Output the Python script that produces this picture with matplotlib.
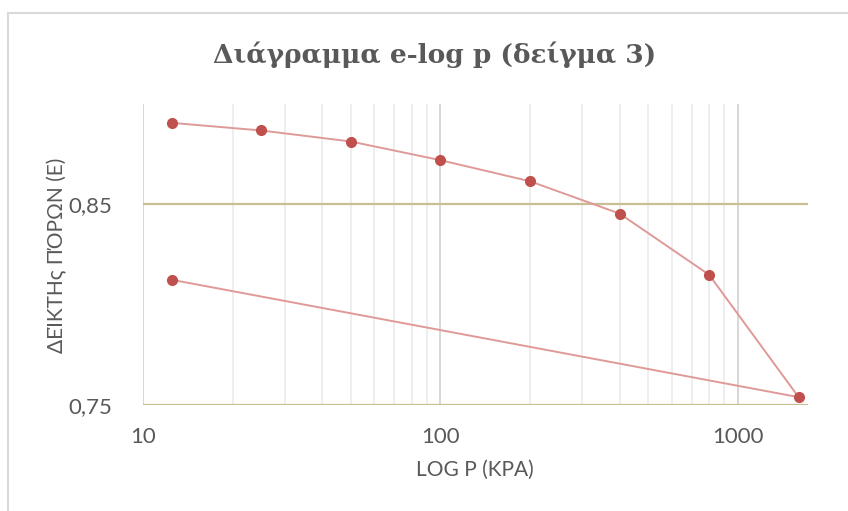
import matplotlib
matplotlib.use("Agg")
import matplotlib.pyplot as plt
from matplotlib.patches import Rectangle
from matplotlib.ticker import FixedLocator, FuncFormatter

# Data (loading then unloading)
pressure = [12.5, 25, 50, 100, 200, 400, 800, 1600, 12.5]
void_ratio = [0.8906, 0.8868, 0.8813, 0.8720, 0.8615, 0.8454, 0.8149, 0.7539, 0.8124]
x_ticks = [10, 100, 1000]
y_ticks = [0.75, 0.85]
title = "Διάγραμμα e-log p (δείγμα 3)"
xlabel = "LOG P (KPA)"
ylabel = "ΔΕΊΚΤΗς ΠΌΡΩΝ (Ε)"

txt = "#595959"
fig = plt.figure(figsize=(8.48, 5.11), dpi=100)
fig.patches.append(Rectangle((7.5/848, -0.2), 2, 1.2 - 12.5/511, transform=fig.transFigure,
                             fill=False, edgecolor="#D9D9D9", linewidth=1.5))
ax = fig.add_axes([143/848, (511-405)/511, (808-143)/848, (405-104)/511])
ax.set_xscale("log")
ax.set_xlim(10, 1720)
ax.set_ylim(0.75, 0.9)

minor = [m*10**d for d in (1, 2) for m in range(2, 10)]
for v in minor:
    ax.axvline(v, color="#E9E9E9", lw=1.1, zorder=0)
for v in x_ticks:
    ax.axvline(v, color="#D4D4D4", lw=1.3, zorder=0)
for v in y_ticks:
    ax.axhline(v, color="#C9BF94", lw=1.6, zorder=1)

ax.plot(pressure, void_ratio, color="#DE9A98", lw=1.4, zorder=2)
ax.plot(pressure, void_ratio, linestyle="none", marker="o", markersize=7,
        markerfacecolor="#C0504D", markeredgecolor="#C0504D", zorder=3)

for s in ax.spines.values():
    s.set_visible(False)
ax.xaxis.set_major_locator(FixedLocator(x_ticks))
ax.xaxis.set_minor_locator(FixedLocator([]))
ax.xaxis.set_major_formatter(FuncFormatter(lambda v, p: f"{v:g}"))
ax.yaxis.set_major_locator(FixedLocator(y_ticks))
ax.yaxis.set_major_formatter(FuncFormatter(lambda v, p: f"{v:.2f}".replace(".", ",")))
ax.tick_params(length=0, labelsize=16, labelcolor=txt)
for lab in ax.get_xticklabels() + ax.get_yticklabels():
    lab.set_fontfamily("Lato")
ax.tick_params(axis="x", pad=16)
ax.tick_params(axis="y", pad=22)

fig.text(435/848, 1-55/511, title, ha="center", va="center", fontsize=19,
         fontweight="bold", color=txt, family="DejaVu Serif")
fig.text(475/848, 1-470/511, xlabel, ha="center", va="center", fontsize=15,
         color=txt, family="Lato")
fig.text(57/848, 1-255/511, ylabel, ha="center", va="center", fontsize=15,
         color=txt, family="Lato", rotation=90)

fig.savefig("out.png", dpi=100)
